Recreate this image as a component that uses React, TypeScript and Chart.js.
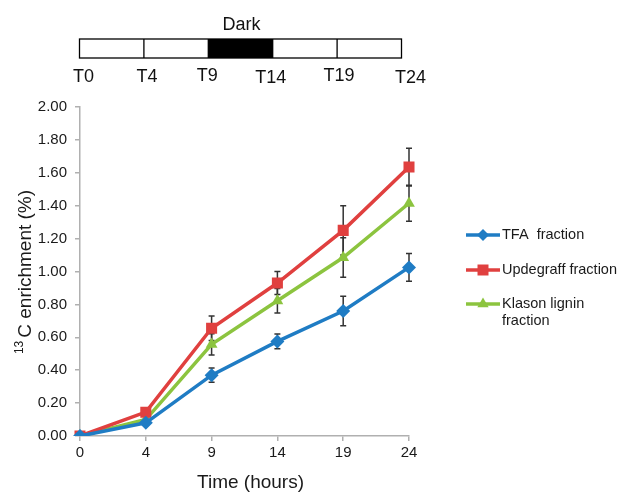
import React, { useEffect, useRef } from 'react';
import { Chart, registerables } from 'chart.js';

Chart.register(...registerables);

// ---- Data ----
const timeLabels = ['0', '4', '9', '14', '19', '24'];
const phaseLabels = ['T0', 'T4', 'T9', 'T14', 'T19', 'T24'];
const darkSegment = [2, 3]; // segment index range (T9 -> T14)
const tfa = [0, 0.08, 0.37, 0.575, 0.76, 1.025];
const tfaErr = [0, 0, 0.043, 0.045, 0.09, 0.085];
const updegraff = [0, 0.145, 0.655, 0.93, 1.25, 1.635];
const updegraffErr = [0, 0, 0.075, 0.07, 0.15, 0.115];
const klason = [0, 0.1, 0.557, 0.822, 1.085, 1.415];
const klasonErr = [0, 0, 0.065, 0.075, 0.12, 0.11];
const seriesNames = ['TFA  fraction', 'Updegraff fraction', 'Klason lignin|fraction'];
const seriesColors = ['#1f7cc4', '#e0403f', '#8cc43f'];
const seriesMarkers = ['rectRot', 'rect', 'triangle'];
const yTicks = [0, 0.2, 0.4, 0.6, 0.8, 1.0, 1.2, 1.4, 1.6, 1.8, 2.0];

const FONT = '"Liberation Sans", Arial, sans-serif';

function drawMarker(ctx: CanvasRenderingContext2D, type: string, x: number, y: number, color: string) {
  ctx.save();
  ctx.fillStyle = color;
  ctx.beginPath();
  if (type === 'rectRot') {
    const r = 6;
    ctx.moveTo(x, y - r);
    ctx.lineTo(x + r, y);
    ctx.lineTo(x, y + r);
    ctx.lineTo(x - r, y);
  } else if (type === 'rect') {
    const s = 5.5;
    ctx.rect(x - s, y - s, 2 * s, 2 * s);
  } else {
    const r = 6.5;
    ctx.moveTo(x, y - r);
    ctx.lineTo(x + r * 0.866, y + r * 0.5);
    ctx.lineTo(x - r * 0.866, y + r * 0.5);
  }
  ctx.closePath();
  ctx.fill();
  ctx.restore();
}

const errorBarPlugin = {
  id: 'errorBars',
  beforeDatasetsDraw(chart: any) {
    const ctx = chart.ctx as CanvasRenderingContext2D;
    const errs = [tfaErr, updegraffErr, klasonErr];
    const yScale = chart.scales.y;
    ctx.save();
    ctx.strokeStyle = '#333333';
    ctx.lineWidth = 1.5;
    chart.data.datasets.forEach((ds: any, i: number) => {
      const meta = chart.getDatasetMeta(i);
      meta.data.forEach((pt: any, j: number) => {
        const e = errs[i][j];
        if (!e) return;
        const v = ds.data[j];
        const yTop = yScale.getPixelForValue(v + e);
        const yBot = yScale.getPixelForValue(v - e);
        const x = pt.x;
        ctx.beginPath();
        ctx.moveTo(x, yTop);
        ctx.lineTo(x, yBot);
        ctx.moveTo(x - 3, yTop);
        ctx.lineTo(x + 3, yTop);
        ctx.moveTo(x - 3, yBot);
        ctx.lineTo(x + 3, yBot);
        ctx.stroke();
      });
    });
    ctx.restore();
  },
};

const decorPlugin = {
  id: 'decor',
  afterDraw(chart: any) {
    const ctx = chart.ctx as CanvasRenderingContext2D;
    const area = chart.chartArea;
    ctx.save();

    // ---- Timeline bar ----
    const bx0 = 79.5, bx1 = 401.5, by0 = 39, by1 = 58;
    const nSeg = phaseLabels.length - 1;
    const segW = (bx1 - bx0) / nSeg;
    ctx.fillStyle = '#000';
    ctx.fillRect(bx0 + darkSegment[0] * segW, by0, (darkSegment[1] - darkSegment[0]) * segW, by1 - by0);
    ctx.strokeStyle = '#000';
    ctx.lineWidth = 1.3;
    ctx.strokeRect(bx0, by0, bx1 - bx0, by1 - by0);
    ctx.beginPath();
    for (let i = 1; i < nSeg; i++) {
      const x = bx0 + i * segW;
      ctx.moveTo(x, by0);
      ctx.lineTo(x, by1);
    }
    ctx.stroke();
    ctx.fillStyle = '#111';
    ctx.font = `18px ${FONT}`;
    ctx.textAlign = 'center';
    ctx.textBaseline = 'middle';
    ctx.fillText('Dark', bx0 + (darkSegment[0] + darkSegment[1]) / 2 * segW + 1, 25);
    const labelShift = [4, 3, -1, -2, 2, 9];
    const labelDy = [77, 77, 76, 78, 76, 78];
    phaseLabels.forEach((t, i) => {
      ctx.fillText(t, bx0 + i * segW + labelShift[i], labelDy[i]);
    });

    // ---- Axis titles ----
    ctx.fillStyle = '#1a1a1a';
    ctx.font = `19px ${FONT}`;
    ctx.textAlign = 'center';
    ctx.textBaseline = 'middle';
    ctx.fillText('Time (hours)', (area.left + area.right) / 2 + 6, 483);

    // y title with superscript
    ctx.save();
    ctx.translate(24, 272);
    ctx.rotate(-Math.PI / 2);
    const main = 'C enrichment (%)';
    ctx.font = `19px ${FONT}`;
    const wMain = ctx.measureText(main).width;
    ctx.font = `12px ${FONT}`;
    const wSup = ctx.measureText('13').width + 3;
    const total = wMain + wSup;
    ctx.textAlign = 'left';
    ctx.textBaseline = 'alphabetic';
    ctx.fillText('13', -total / 2, -1);
    ctx.font = `19px ${FONT}`;
    ctx.fillText(main, -total / 2 + wSup, 7);
    ctx.restore();

    // ---- Legend ----
    const lx0 = 466, lx1 = 500;
    const ly = [235, 270, 304];
    seriesNames.forEach((name, i) => {
      ctx.strokeStyle = seriesColors[i];
      ctx.lineWidth = 3.5;
      ctx.beginPath();
      ctx.moveTo(lx0, ly[i]);
      ctx.lineTo(lx1, ly[i]);
      ctx.stroke();
      drawMarker(ctx, seriesMarkers[i], (lx0 + lx1) / 2, ly[i], seriesColors[i]);
      ctx.fillStyle = '#1a1a1a';
      ctx.font = `14.5px ${FONT}`;
      ctx.textAlign = 'left';
      ctx.textBaseline = 'middle';
      name.split('|').forEach((line, k) => {
        ctx.fillText(line, 502, ly[i] + k * 17);
      });
    });

    ctx.restore();
  },
};

export default function App() {
  const ref = useRef<HTMLCanvasElement | null>(null);

  useEffect(() => {
    if (!ref.current) return;
    const series = [tfa, updegraff, klason];
    const chart = new Chart(ref.current, {
      type: 'line',
      data: {
        labels: timeLabels,
        datasets: series.map((d, i) => ({
          label: seriesNames[i].replace('|', ' '),
          data: d,
          borderColor: seriesColors[i],
          backgroundColor: seriesColors[i],
          borderWidth: 3.5,
          pointStyle: seriesMarkers[i] as any,
          pointRadius: i === 0 ? 7 : i === 1 ? 7.8 : 6.8,
          pointBorderWidth: 0,
          pointHoverRadius: 6,
          tension: 0,
          fill: false,
        })),
      },
      options: {
        responsive: false,
        animation: false,
        layout: { padding: { top: 107, right: 217, left: 0, bottom: 0 } },
        plugins: {
          legend: { display: false },
          tooltip: { enabled: false },
          title: { display: false },
        },
        scales: {
          x: {
            type: 'category',
            offset: false,
            grid: { display: true, drawOnChartArea: false, drawTicks: true, tickLength: 5, color: '#b0b0b0', lineWidth: 1.5 },
            border: { display: true, color: '#b0b0b0', width: 1.5 },
            ticks: { color: '#1a1a1a', font: { family: FONT, size: 15 }, padding: 3, maxRotation: 0 },
            afterFit: (s: any) => { s.height = 58; },
          },
          y: {
            type: 'linear',
            min: 0,
            max: 2,
            afterBuildTicks: (s: any) => { s.ticks = yTicks.map((v) => ({ value: v })); },
            grid: { display: true, drawOnChartArea: false, drawTicks: true, tickLength: 5, color: '#b0b0b0', lineWidth: 1.5 },
            border: { display: true, color: '#b0b0b0', width: 1.5 },
            ticks: {
              color: '#1a1a1a',
              font: { family: FONT, size: 15 },
              padding: 8,
              callback: (v: any) => Number(v).toFixed(2),
            },
            afterFit: (s: any) => { s.width = 80; },
          },
        },
      },
      plugins: [errorBarPlugin, decorPlugin],
    } as any);
    return () => chart.destroy();
  }, []);

  return (
    <div style={{ position: 'absolute', left: 0, top: 0, width: 626, height: 494, background: '#fff' }}>
      <canvas ref={ref} width={626} height={494} />
    </div>
  );
}
